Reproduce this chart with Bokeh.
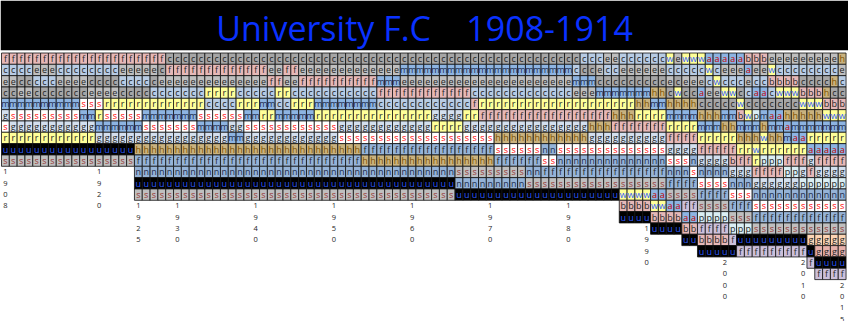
from bokeh.plotting import figure
from bokeh.models import ColumnDataSource, Range1d, BoxAnnotation, Label
from bokeh.embed import file_html
from bokeh.resources import INLINE

TITLE = "University F.C\u00a0\u00a0\u00a0\u00a01908-1914"
FIRST_YEAR = 1908
LABEL_YEARS = [1908, 1920, 1925, 1930, 1940, 1950, 1960, 1970, 1980, 1990, 2000, 2010, 2015]

# one string per season (1908 .. 2015), clubs listed top row to bottom row
COLUMNS = [
    "FCEKMGSRUT", "FCEKMSGRUT", "FCKEMSGRUT", "FCKEMSGRUT", "FECKMSGRUT",
    "FECKMSGRUT", "FECKMSGRUT", "FCEKMSGRUT", "FCEKMSGRUT", "FCEKMSGRUT",
    "FCEKSMGRUT", "FCKESMGRUT", "FCKESRMGUT", "FCKERSMGUT", "FCKERSMGUT",
    "FECKRSMGUT", "FECKRSMGUT",
    "FECKRSMGHWNUT", "FECKRMSGHWNUT", "FEKCRMSGHWNUT", "FKECRMSGHWNUT",
    "KFECRMSGHWNUT", "KFECRMSGHWNUT", "KFECRMSGHWNUT", "KFECRMSGHWNUT",
    "KFECRSMGHWNUT", "KFERCSMGHWNUT", "KFERCSMGHWNUT", "KFERCSMGHWNUT",
    "KFERCSGMHWNUT", "KFECRSGMHWNUT", "KFECRMSGHWNUT", "KFECRMSGHWNUT",
    "KFECMRSGHWNUT", "KEFCMRSGHWNUT", "KEFRCMSGHWNUT", "KFERCMSGHWNUT",
    "KFECRMSGHWNUT", "KEFCRMSGHWNUT", "KEFCRMSGHWNUT", "KEFCMRSGHWNUT",
    "KEFCMRSGHWNUT", "KEFCMRSGHWNUT", "KEFCMRGSHWNUT", "KEFCMRGSHWNUT",
    "KEFCMRGSHWNUT", "KEFCMRGSWHNUT", "KEFCMRGSWHNUT", "KEMFCRGSWHNUT",
    "KEMFCRGSWHNUT", "KEMFCRGSWHNUT", "KMEFCRGSWHNUT", "KMEFCRGSWHNUT",
    "KMEFCRGSWHNUT", "KMEFCRGSWHNUT", "KMEFCGRSWHNUT", "KMEFCGRSWHNUT",
    "KMEFCGRSWHNUT", "KMEFCGRSWHTNU", "KMEFCRGSWHTNU", "KMECFRGSWHTNU",
    "KMECRFGSWHTNU", "KMECRFGSWHTNU", "KMECRFGHSWTNU", "KMECRFGHSWTNU",
    "KMECRFGHSWTNU", "KMECRFGHSWTNU", "KMECRFGHSWNTU", "KMECRFGHSWNTU",
    "KMECRFGHNSWTU", "KMECRFGHNSWTU", "KMECRFGHSNWTU", "KMECRFGHSNWTU",
    "KCMERFGHSNWTU", "CKMERFGHSNWTU", "CKMERFHGSNWTU", "CEKMRFHGSNWTU",
    "ECKMRFHGSNWTU", "ECKMRHFGSNWTU",
    "CEKMRHFGSNWTYBU", "CEKMRHFGSNWTYBU", "CEKMHRFGSNWTYBU", "CEKMHRFGSNWTYBU",
    "CEKHMRFGSNWTAYBU", "CEKHMRFGSNWTAYBU", "YCEKHMRFGSNWTABU", "ECKYHMRFGSNWTABU",
    "YCEKHMRFGSNWTQABU", "YCEKHMRFGNSWTQABU",
    "YCEAKHMRFGNSWTPQBU", "AYCEKHMRFGNSWTPQBU", "ACYEKHMRFGNSWTPQBU",
    "AECYKMHRFGNSWTPQBU", "AECYKMHRFBGNSWTPQU", "AECKYBMHRFGNSWTPUQ",
    "BAECKYMHRFGNSWTPUQ", "BECAKPMHYRFGNSWTUQ", "BECAKMHYRPFGNSWTUQ",
    "EYBCKAMHRPFGNSWTUQ", "ECBYKAMHRPFGNSWTUQ", "ECBYKHAMRFPGNSWTUQ",
    "ECBYKHMARFPGNSWTUQ", "ECKBYHMARFGPNSWTUQ",
    "ECKBYHMRAGFPNSWTDUQ",
    "ECKBYHMRAFGPNSWTDZUQ", "ECKHBYMRAFGPNSWTDZUQ", "ECHKBYMRAFGPNSWTDZUQ",
    "HECKBYMRAFGPNSWTDZUQ",
]

# club code -> (letter shown, cell colour, letter colour)
TEAMS = {
    "F": ("f", "#e6b8b7", "#262626"),  # Fitzroy
    "C": ("c", "#b8cce4", "#262626"),  # Carlton
    "K": ("c", "#a6a6a6", "#262626"),  # Collingwood
    "E": ("e", "#bfbfbf", "#262626"),  # Essendon
    "M": ("m", "#8db4e2", "#1f2d4d"),  # Melbourne
    "S": ("s", "#ffffff", "#ff0000"),  # South Melbourne / Sydney
    "G": ("g", "#d3dfee", "#262626"),  # Geelong
    "R": ("r", "#ffff99", "#262626"),  # Richmond
    "U": ("u", "#000000", "#2f5bff"),  # University
    "T": ("s", "#bfbfbf", "#963634"),  # St Kilda
    "H": ("h", "#c9b27e", "#7f5200"),  # Hawthorn
    "W": ("f", "#95b3d7", "#262626"),  # Footscray
    "N": ("n", "#95b3d7", "#1f2d4d"),  # North Melbourne
    "Y": ("w", "#ffff99", "#2f5bff"),  # West Coast
    "A": ("a", "#8db4e2", "#c00000"),  # Adelaide
    "B": ("b", "#e6b8b7", "#262626"),  # Brisbane
    "P": ("p", "#daeef3", "#262626"),  # Port Adelaide
    "Q": ("f", "#ccc0da", "#262626"),  # Fremantle
    "D": ("g", "#fcd5b4", "#262626"),  # Gold Coast
    "Z": ("g", "#e6b0aa", "#262626"),  # GWS
}

xs, ys, letters, bgs, fgs = [], [], [], [], []
for j, col in enumerate(COLUMNS):
    for r, code in enumerate(col):
        letter, bg, fg = TEAMS[code]
        xs.append(j + 0.5)
        ys.append(r + 0.5)
        letters.append(letter)
        bgs.append(bg)
        fgs.append(fg)
cells = ColumnDataSource(dict(x=xs, y=ys, letter=letters, bg=bgs, fg=fgs))

lx, ly, lt = [], [], []
for yr in LABEL_YEARS:
    j = yr - FIRST_YEAR
    n = len(COLUMNS[j])
    for k, d in enumerate(str(yr)):
        lx.append(j + 0.5)
        ly.append(n + k + 0.5)
        lt.append(d)
labels = ColumnDataSource(dict(x=lx, y=ly, t=lt))

CELL_W = 7.82
CELL_H = 11.33
X0 = -1.0 / CELL_W
Y_TOP = -52.5 / CELL_H
p = figure(width=848, height=321, output_backend="svg", toolbar_location=None,
           x_range=Range1d(X0, X0 + 848 / CELL_W),
           y_range=Range1d(Y_TOP + 321 / CELL_H, Y_TOP),
           x_axis_location=None, y_axis_location=None, min_border=0)
p.outline_line_color = None
p.grid.visible = False
p.background_fill_color = "white"
p.border_fill_color = "white"

band = BoxAnnotation(left=X0, right=X0 + 848 / CELL_W, top=Y_TOP, bottom=(49.7 - 52.5) / CELL_H,
                     fill_color="black", fill_alpha=1.0, line_color=None)
p.add_layout(band)

p.rect(x="x", y="y", width=1, height=1, source=cells, fill_color="bg",
       line_color="#111111", line_width=0.8)
p.text(x="x", y="y", text="letter", source=cells, text_color="fg",
       text_align="center", text_baseline="middle", text_font_size="9px",
       text_font={"value": "Open Sans"})
p.text(x="x", y="y", text="t", source=labels, text_color="#262626",
       text_align="center", text_baseline="middle", text_font_size="7.5px",
       text_font={"value": "Open Sans"})

title = Label(x=X0 + 424 / CELL_W, y=(27 - 52.5) / CELL_H, text=TITLE,
              text_align="center", text_baseline="middle",
              text_color="#0a32ff", text_font="Open Sans", text_font_size="34px")
p.add_layout(title)

open("out.html", "w").write(file_html(p, INLINE))
